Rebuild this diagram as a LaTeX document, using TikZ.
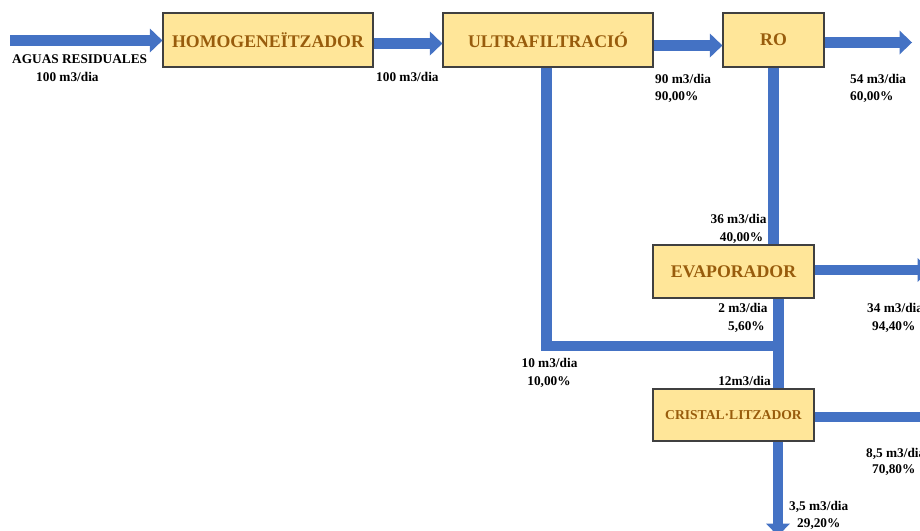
\documentclass[tikz,border=0pt]{standalone}
\usepackage{fontspec}
\setmainfont{Liberation Serif}
\usetikzlibrary{arrows.meta,calc}
\definecolor{flowblue}{HTML}{4472C4}
\definecolor{boxfill}{HTML}{FFE699}
\definecolor{boxtext}{HTML}{985C0C}
\definecolor{boxline}{HTML}{404040}
\tikzset{
  procbox/.style={draw=boxline, line width=1.2pt, fill=boxfill, inner sep=0pt,
    text=boxtext, font=\bfseries\fontsize{17.8}{20}\selectfont},
  flowbar/.style={draw=flowblue, line width=10.5pt},
  flowarrow/.style={flowbar, -{Triangle[width=24pt,length=12.5pt,line width=0pt]}},
  lbl/.style={font=\bfseries\fontsize{13.3}{15}\selectfont, inner sep=0pt, text=black}
}
\begin{document}
\begin{tikzpicture}[x=1pt,y=-1pt]
\useasboundingbox (0,0) rectangle (920,530);
\clip (0,0) rectangle (920,530);
% process boxes
\node[procbox, minimum width=210pt, minimum height=54pt] (homo) at (268,40) {HOMOGENEÏTZADOR};
\node[procbox, minimum width=210pt, minimum height=54pt] (uf) at (548,40) {ULTRAFILTRACIÓ};
\node[procbox, minimum width=101pt, minimum height=54pt] (ro) at (773.5,40) {RO};
\node[procbox, minimum width=161pt, minimum height=53pt] (evap) at (733.5,271.5) {EVAPORADOR};
\node[procbox, minimum width=161pt, minimum height=52pt, font=\bfseries\fontsize{13.6}{16}\selectfont] (cryst) at (733.5,415) {CRISTAL·LITZADOR};
% free ends
\coordinate (in) at (10,40.5);
\coordinate (roout) at (912,42.5);
\coordinate (evout) at (930,270);
\coordinate (crout) at (945,417);
\coordinate (crdown) at (778,536);
\coordinate (jn) at (778.5,346);
% connectors
\draw[flowarrow] (in) -- (in -| homo.west);
\draw[flowarrow] ($(homo.east)+(0,3.5)$) -- ($(uf.west)+(0,3.5)$);
\draw[flowarrow] ($(uf.east)+(0,5.5)$) -- ($(ro.west)+(0,5.5)$);
\draw[flowarrow] ($(ro.east)+(0,2.5)$) -- (roout);
\draw[flowbar] (ro.south) -- (ro.south |- evap.north);
\draw[flowbar] ($(uf.south)+(-1.5,0)$) |- (jn);
\draw[flowbar] (jn |- evap.south) -- (jn |- cryst.north);
\draw[flowarrow] (evap.east |- evout) -- (evout);
\draw[flowarrow] (cryst.east |- crout) -- (crout);
\draw[flowarrow] (crdown |- cryst.south) -- (crdown);
% labels
\node[lbl, anchor=base west] (t1) at (12,63) {AGUAS RESIDUALES};
\node[lbl, anchor=base west] (t2) at (36,81.5) {100 m3/dia};
\node[lbl, anchor=base west] (t3) at (376,81.5) {100 m3/dia};
\node[lbl, anchor=base west] (t4) at (655,83) {90 m3/dia};
\node[lbl, anchor=base west] (t5) at (655,100) {90,00\%};
\node[lbl, anchor=base west] (t6) at (850,83) {54 m3/dia};
\node[lbl, anchor=base west] (t7) at (850,100) {60,00\%};
\node[lbl, anchor=base] (t8) at (738.5,223) {36 m3/dia};
\node[lbl, anchor=base] (t9) at (741.5,241) {40,00\%};
\node[lbl, anchor=base] (t10) at (743,312) {2 m3/dia};
\node[lbl, anchor=base] (t11) at (746.5,330) {5,60\%};
\node[lbl, anchor=base west] (t12) at (867,312) {34 m3/dia};
\node[lbl, anchor=base west] (t13) at (872,330) {94,40\%};
\node[lbl, anchor=base] (t14) at (549.5,367) {10 m3/dia};
\node[lbl, anchor=base] (t15) at (549,385) {10,00\%};
\node[lbl, anchor=base] (t16) at (744.5,385) {12m3/dia};
\node[lbl, anchor=base west] (t17) at (866,457) {8,5 m3/dia};
\node[lbl, anchor=base west] (t18) at (872,473) {70,80\%};
\node[lbl, anchor=base west] (t19) at (789,510) {3,5 m3/dia};
\node[lbl, anchor=base west] (t20) at (797,527) {29,20\%};
\end{tikzpicture}
\end{document}
